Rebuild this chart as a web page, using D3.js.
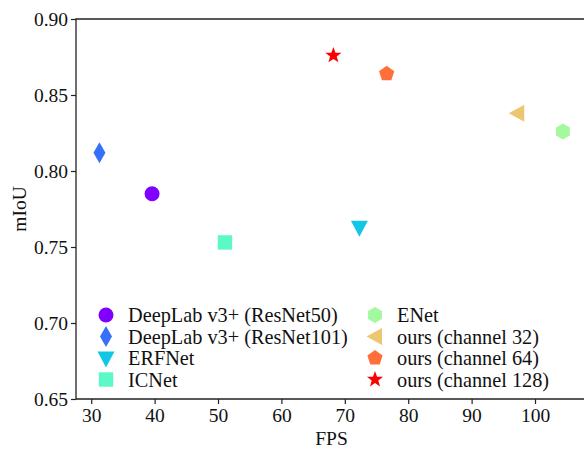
<!DOCTYPE html>
<html>
<head>
<meta charset="utf-8">
<script src="https://cdn.jsdelivr.net/npm/d3@7"></script>
<style>
  body { margin: 0; background: #fff; }
  svg { display: block; font-family: "Liberation Serif", "Times New Roman", serif; }
</style>
</head>
<body>
<svg id="chart" width="584" height="451"></svg>
<script>
// data
var methods = ["DeepLab v3+ (ResNet50)", "DeepLab v3+ (ResNet101)", "ERFNet", "ICNet",
               "ENet", "ours (channel 32)", "ours (channel 64)", "ours (channel 128)"];
var fps  = [39.6, 31.3, 72.3, 51.1, 104.4, 97.2, 76.6, 68.2];
var miou = [0.785, 0.812, 0.763, 0.753, 0.826, 0.838, 0.864, 0.876];
var xTicks = [30, 40, 50, 60, 70, 80, 90, 100];
var yTicks = [0.65, 0.70, 0.75, 0.80, 0.85, 0.90];

// styling
var markers = ["circle", "thin_diamond", "triangle_down", "square", "hexagon", "triangle_left", "pentagon", "star"];
var colors = ["#8000ff", "#3770f8", "#12c7e6", "#5bf9c7", "#a4f99f", "#edc76f", "#ff6f39", "#ff0000"];

var w = 584, h = 451;
var padLeft = 76, padRight = 587, padTop = 19, padBottom = 399;

var svg = d3.select("#chart");

var xScale = d3.scaleLinear().domain([27.6, 108.2]).range([padLeft, padRight]);
var yScale = d3.scaleLinear().domain([0.65, 0.90]).range([padBottom, padTop]);

// marker paths, centred on 0,0
function polygon(n, r, rot) {
    var pts = [];
    for (var i = 0; i < n; i++) {
        var a = rot + i * 2 * Math.PI / n;
        pts.push([r * Math.cos(a), r * Math.sin(a)]);
    }
    return "M" + pts.map(p => p[0].toFixed(2) + "," + p[1].toFixed(2)).join("L") + "Z";
}
function markerPath(type) {
    switch (type) {
        case "circle":
            return "M7.5,0A7.5,7.5 0 1,1 -7.5,0A7.5,7.5 0 1,1 7.5,0Z";
        case "thin_diamond":
            return "M0,-10.5L6,0L0,10.5L-6,0Z";
        case "triangle_down":
            return "M-8.5,-6.5L8.5,-6.5L0,9.5Z";
        case "triangle_left":
            return "M-8.5,0L7,-8.5L7,8.5Z";
        case "square":
            return "M-7.2,-7.2L7.2,-7.2L7.2,7.2L-7.2,7.2Z";
        case "hexagon":
            return polygon(6, 8, -Math.PI / 2);
        case "pentagon":
            return polygon(5, 8, -Math.PI / 2);
        case "star":
            var pts = [];
            for (var i = 0; i < 10; i++) {
                var r = i % 2 === 0 ? 8.5 : 3.5;
                var a = -Math.PI / 2 + i * Math.PI / 5;
                pts.push([r * Math.cos(a), r * Math.sin(a)]);
            }
            return "M" + pts.map(p => p[0].toFixed(2) + "," + p[1].toFixed(2)).join("L") + "Z";
    }
}

// axes
var xAxis = svg.append("g")
    .attr("transform", `translate(0,${padBottom})`)
    .call(d3.axisBottom(xScale).tickValues(xTicks).tickSize(5).tickPadding(4).tickFormat(d3.format("d")));
var yAxis = svg.append("g")
    .attr("transform", `translate(${padLeft},0)`)
    .call(d3.axisLeft(yScale).tickValues(yTicks).tickSize(5).tickPadding(3).tickFormat(d3.format(".2f")));

svg.selectAll(".domain").remove();
svg.selectAll(".tick line").style("stroke", "#222").style("stroke-width", 1.2);
svg.selectAll(".tick text")
    .style("font-family", "Liberation Serif")
    .style("font-size", "19.5px")
    .style("fill", "#111");
yAxis.selectAll(".tick text").attr("dy", "0.34em");

// spines (left, bottom, top)
svg.append("path")
    .attr("d", `M${padRight},${padTop}H${padLeft}V${padBottom}H${padRight}`)
    .style("fill", "none")
    .style("stroke", "#222")
    .style("stroke-width", 1.3);

// axis labels
svg.append("text")
    .attr("x", (padLeft + padRight) / 2)
    .attr("y", 445)
    .attr("text-anchor", "middle")
    .style("font-size", "19.5px")
    .style("fill", "#111")
    .text("FPS");
svg.append("text")
    .attr("transform", `translate(26,${(padTop + padBottom) / 2}) rotate(-90)`)
    .attr("text-anchor", "middle")
    .style("font-size", "19.5px")
    .style("fill", "#111")
    .text("mIoU");

// points
svg.selectAll(".dot")
    .data(methods.map((m, i) => ({ name: m, fps: fps[i], miou: miou[i], i: i })))
    .enter().append("path")
    .attr("class", "dot")
    .attr("transform", d => `translate(${xScale(d.fps)},${yScale(d.miou)})`)
    .attr("d", d => markerPath(markers[d.i]))
    .style("fill", d => colors[d.i]);

// legend, two columns of four
var legend = svg.append("g").attr("class", "legend");
var items = legend.selectAll(".item")
    .data(methods.map((m, i) => ({ name: m, i: i })))
    .enter().append("g")
    .attr("class", "item")
    .attr("transform", d => {
        var col = Math.floor(d.i / 4), row = d.i % 4;
        return `translate(${col === 0 ? 106 : 375},${315 + row * 21.5})`;
    });
items.append("path")
    .attr("d", d => markerPath(markers[d.i]))
    .style("fill", d => colors[d.i]);
items.append("text")
    .attr("x", 22)
    .attr("dy", "0.35em")
    .style("font-size", "20.3px")
    .style("fill", "#111")
    .text(d => d.name);
</script>
</body>
</html>
